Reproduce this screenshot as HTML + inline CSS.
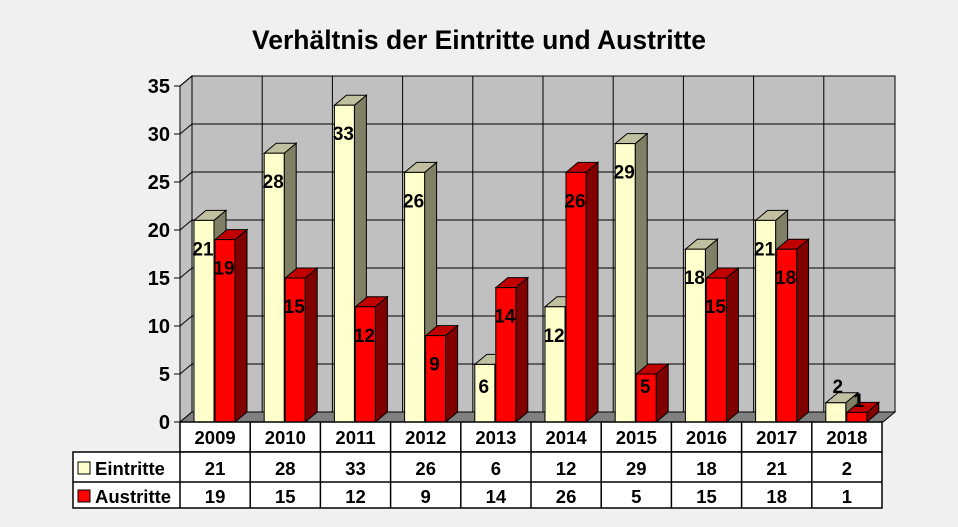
<!DOCTYPE html>
<html><head><meta charset="utf-8"><style>
body{margin:0;background:#f0f0f0;}
svg{display:block;font-family:"Liberation Sans",Arial,sans-serif;font-weight:bold;}
</style></head><body>
<svg width="958" height="527" viewBox="0 0 958 527">
<rect width="958" height="527" fill="#f0f0f0"/>
<text x="479" y="49" font-size="26.5" text-anchor="middle" fill="#000">Verhältnis der Eintritte und Austritte</text>
<rect x="192" y="76" width="703" height="336" fill="#c0c0c0" stroke="#000" stroke-width="1"/>
<polygon points="180,86 192,76 192,412 180,422" fill="#c0c0c0" stroke="#000"/>
<polygon points="180,422 192,412 895,412 883,422" fill="#808080" stroke="#000"/>
<g id="grid" stroke="#000" stroke-width="1" fill="none"></g>
<g id="bars"></g>
<g id="ylab" font-size="20" text-anchor="end"></g>
<g stroke="#000" stroke-width="1.5" fill="#fff">
<rect x="180" y="422" width="702" height="30"/>
<rect x="73" y="452" width="809" height="56"/>
</g>
<g id="tbl" font-size="18.5" text-anchor="middle"></g>
</svg>
<script>
var E=[21,28,33,26,6,12,29,18,21,2],A=[19,15,12,9,14,26,5,15,18,1];
var ns="http://www.w3.org/2000/svg";
function el(p,t,a,txt){var e=document.createElementNS(ns,t);for(var k in a)e.setAttribute(k,a[k]);if(txt!=null)e.textContent=txt;document.getElementById(p).appendChild(e);return e;}
var s=9.6,y0=422,cw=70.2;
for(var v=5;v<=35;v+=5){var y=y0-v*s;
 el('grid','line',{x1:192,y1:y-10,x2:895,y2:y-10});
 el('grid','line',{x1:180,y1:y,x2:192,y2:y-10});
}
for(var v=0;v<=35;v+=5){var y=y0-v*s;
 el('grid','line',{x1:174,y1:y,x2:180,y2:y});
 el('ylab','text',{x:170,y:y+7},v);}
el('grid','line',{x1:180,y1:86,x2:180,y2:422});
for(var i=1;i<10;i++){el('grid','line',{x1:192+cw*i,y1:76,x2:192+cw*i,y2:412});}
function bar(x,v,f,t,sd){var top=y0-v*s,w=20;
 el('bars','polygon',{points:[x+w,top,x+w+12,top-10,x+w+12,y0-10,x+w,y0].join(' '),fill:sd,stroke:'#000'});
 el('bars','polygon',{points:[x,top,x+12,top-10,x+w+12,top-10,x+w,top].join(' '),fill:t,stroke:'#000'});
 el('bars','rect',{x:x,y:top,width:w,height:v*s,fill:f,stroke:'#000'});}
function lab(x,y,v){el('bars','text',{x:x,y:y,'font-size':19,'text-anchor':'middle'},v);}
for(var i=0;i<10;i++){var c=180+cw*i;
 bar(c+14,E[i],'#ffffcc','#c0c0a0','#808066');
 bar(c+35,A[i],'#ff0000','#c00000','#800000');}
for(var i=0;i<10;i++){var c=180+cw*i;
 var te=y0-E[i]*s,ta=y0-A[i]*s;
 if(i==9){lab(c+24+2,393,2);lab(c+45+2,407,1);}
 else{lab(c+23,Math.min(te+35,y0-29),E[i]);lab(c+44,Math.min(ta+35,y0-29),A[i]);}
 var cx=c+cw/2;
 el('tbl','text',{x:cx,y:444},2009+i);
 el('tbl','text',{x:cx,y:475},E[i]);
 el('tbl','text',{x:cx,y:503},A[i]);
 if(i>0)el('tbl','line',{x1:c,y1:422,x2:c,y2:508,stroke:'#000','stroke-width':1.5});
}
el('tbl','line',{x1:180,y1:452,x2:180,y2:508,stroke:'#000','stroke-width':1.5});
el('tbl','line',{x1:73,y1:482,x2:882,y2:482,stroke:'#000','stroke-width':1.5});
el('tbl','rect',{x:78,y:462,width:12,height:12,fill:'#ffffcc',stroke:'#000'});
el('tbl','rect',{x:78,y:490,width:12,height:12,fill:'#ff0000',stroke:'#000'});
el('tbl','text',{x:95,y:475,'text-anchor':'start'},'Eintritte');
el('tbl','text',{x:95,y:503,'text-anchor':'start'},'Austritte');
</script>
</body></html>
